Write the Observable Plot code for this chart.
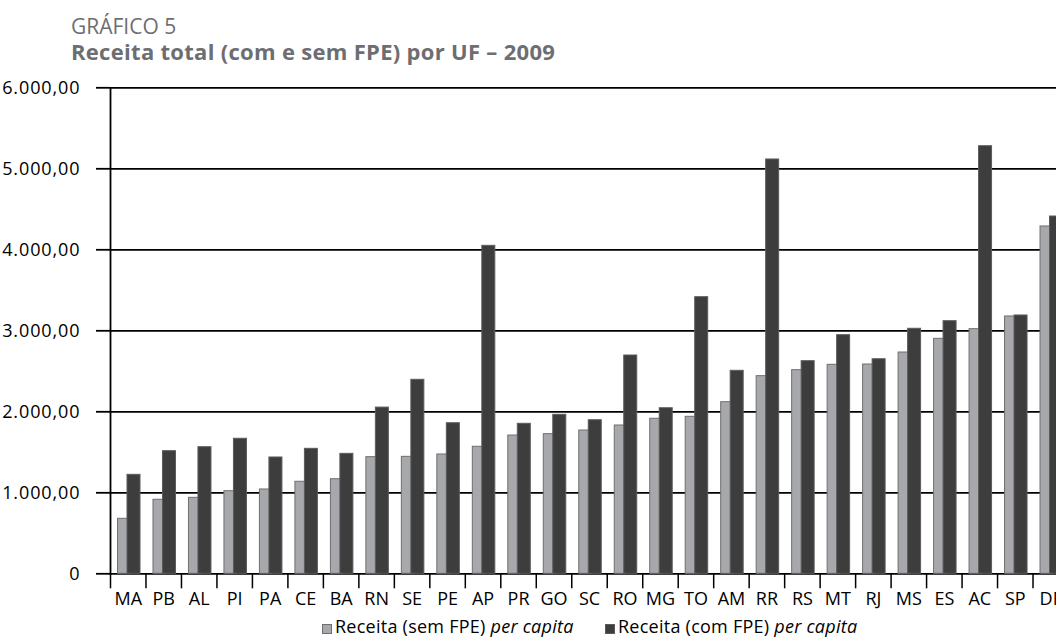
<!DOCTYPE html>
<html>
<head>
<meta charset="utf-8">
<script src="https://cdn.jsdelivr.net/npm/d3@7"></script>
<script src="https://cdn.jsdelivr.net/npm/@observablehq/plot@0.6"></script>
<style>
  html, body { margin: 0; padding: 0; background: #fff; overflow: hidden; }
  body { width: 1056px; height: 638px; font-family: "Open Sans", sans-serif; }
  #head { height: 70px; box-sizing: border-box; padding: 14px 0 0 71px; color: #6d6e71; font-size: 21px; line-height: 25px; }
  #head .t2 { font-weight: bold; font-size: 22px; letter-spacing: 0.3px; }
  #legend { position: relative; height: 23px; font-size: 18px; letter-spacing: 0.25px; color: #000; }
  #legend .item { position: absolute; top: 0; line-height: 23px; white-space: nowrap; }
  #legend .sw { display: inline-block; width: 10px; height: 10px; margin-right: 3px; vertical-align: -1px; box-sizing: border-box; }
  g[aria-label="y-axis tick label"] text { letter-spacing: 0.9px; }
</style>
</head>
<body>
<div id="head"><div>GRÁFICO 5</div><div class="t2">Receita total (com e sem FPE) por UF – 2009</div></div>
<div id="chart"></div>
<div id="legend"></div>
<script>
const ufs = ["MA","PB","AL","PI","PA","CE","BA","RN","SE","PE","AP","PR","GO","SC","RO","MG","TO","AM","RR","RS","MT","RJ","MS","ES","AC","SP","DF"];
const semFPE = [679,914,938,1020,1041,1136,1168,1440,1444,1473,1568,1707,1724,1769,1831,1914,1938,2119,2440,2514,2580,2584,2732,2901,3020,3177,4288];
const comFPE = [1222,1514,1563,1667,1436,1543,1481,2052,2395,1859,4049,1852,1963,1896,2695,2044,3415,2506,5115,2625,2946,2649,3025,3119,5279,3189,4411];
const yTicks = [0,1000,2000,3000,4000,5000,6000];
const seriesNames = ["Receita (sem FPE)", "Receita (com FPE)"];
const colors = ["#a7a8ac", "#3d3d3d"];
const strokes = ["#6f6f6f", "#5c5c5c"];

const data = ufs.map((uf, i) => ({uf, sem: semFPE[i], com: comFPE[i]}));
const fmt = d => d === 0 ? "0" : d.toLocaleString("pt-BR", {minimumFractionDigits: 2, maximumFractionDigits: 2});

const W = 1056, H = 545;
const xRange = [110, 1068];
const bw = (xRange[1] - xRange[0]) / ufs.length;

const chart = Plot.plot({
  width: W,
  height: H,
  marginLeft: 110,
  marginRight: 0,
  marginTop: 17.3,
  marginBottom: 41.7,
  style: {fontFamily: "Open Sans, sans-serif", fontSize: "18px", color: "#000", background: "#fff", overflow: "visible"},
  x: {type: "band", domain: ufs, range: xRange, padding: 0, round: false, axis: null, label: null},
  y: {domain: [0, 6000], axis: null, label: null},
  marks: [
    Plot.ruleY(yTicks, {stroke: "#000", strokeWidth: 1.8}),
    Plot.barY(data, {x: "uf", y: "sem", fill: colors[0], stroke: strokes[0], strokeWidth: 1, insetLeft: 7.5, insetRight: bw - 20}),
    Plot.barY(data, {x: "uf", y: "com", fill: colors[1], stroke: strokes[1], strokeWidth: 1, insetLeft: 17, insetRight: bw - 30}),
    Plot.frame({anchor: "left", stroke: "#000", strokeWidth: 1.8}),
    Plot.axisY({ticks: yTicks, tickFormat: fmt, tickSize: 14, tickPadding: 16, strokeWidth: 1.8, fontSize: 18, label: null}),
    Plot.axisX({tickSize: 15, text: null, label: null, dx: -bw / 2, strokeWidth: 1.5}),
    Plot.text(ufs, {x: d => d, y: () => 0, dy: 25, fontSize: 18, fill: "#000", textAnchor: "middle"})
  ]
});
document.getElementById("chart").appendChild(chart);

const legend = document.getElementById("legend");
const lefts = [322, 605];
seriesNames.forEach((name, i) => {
  const item = document.createElement("span");
  item.className = "item";
  item.style.left = lefts[i] + "px";
  const sw = document.createElement("span");
  sw.className = "sw";
  sw.style.background = colors[i];
  sw.style.border = "1px solid " + strokes[i];
  item.appendChild(sw);
  item.appendChild(document.createTextNode(name + " "));
  const it = document.createElement("i");
  it.textContent = "per capita";
  item.appendChild(it);
  legend.appendChild(item);
});
</script>
</body>
</html>
